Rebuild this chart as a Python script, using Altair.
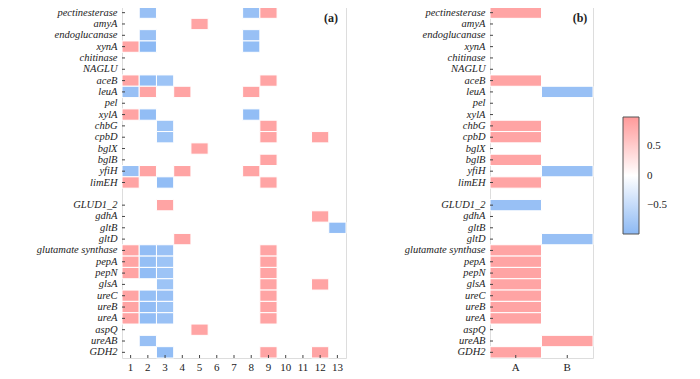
import altair as alt
import pandas as pd

genes = ["pectinesterase", "amyA", "endoglucanase", "xynA", "chitinase", "NAGLU",
         "aceB", "leuA", "pel", "xylA", "chbG", "cpbD", "bglX", "bglB", "yfiH", "limEH",
         " ",
         "GLUD1_2", "gdhA", "gltB", "gltD", "glutamate synthase", "pepA", "pepN", "glsA",
         "ureC", "ureB", "ureA", "aspQ", "ureAB", "GDH2"]
label_genes = [g for g in genes if g.strip()]

cols_a = [str(i) for i in range(1, 14)]
cols_b = ["A", "B"]

# panel (a): gene -> {column: value}
cells_a = {
    "pectinesterase": {"2": -0.9, "8": -0.9, "9": 0.9},
    "amyA": {"5": 0.9},
    "endoglucanase": {"2": -0.9, "8": -0.9},
    "xynA": {"1": 0.9, "2": -1.0, "8": -0.95},
    "aceB": {"1": 0.9, "2": -0.95, "3": -0.85, "9": 0.9},
    "leuA": {"1": -0.9, "2": 0.9, "4": 0.9, "8": 0.9},
    "xylA": {"1": 0.9, "2": -0.95, "8": -0.95},
    "chbG": {"3": -0.85, "9": 0.9},
    "cpbD": {"3": -0.85, "9": 0.9, "12": 0.9},
    "bglX": {"5": 0.9},
    "bglB": {"9": 0.9},
    "yfiH": {"1": -0.9, "2": 0.9, "4": 0.9, "8": 0.9},
    "limEH": {"1": 0.9, "3": -0.95, "9": 0.9},
    "GLUD1_2": {"3": 0.9},
    "gdhA": {"12": 0.9},
    "gltB": {"13": -0.95},
    "gltD": {"4": 0.9},
    "glutamate synthase": {"1": 0.9, "2": -0.95, "3": -0.88, "9": 0.9},
    "pepA": {"1": 0.9, "2": -0.92, "3": -0.85, "9": 0.9},
    "pepN": {"1": 0.9, "2": -0.95, "3": -0.85, "9": 0.9},
    "glsA": {"3": -0.85, "9": 0.9, "12": 0.9},
    "ureC": {"1": 0.9, "2": -0.92, "3": -0.9, "9": 0.9},
    "ureB": {"1": 0.9, "2": -0.95, "3": -0.85, "9": 0.9},
    "ureA": {"1": 0.9, "2": -0.95, "3": -0.88, "9": 0.9},
    "aspQ": {"5": 0.9},
    "ureAB": {"2": -0.9},
    "GDH2": {"3": -0.95, "9": 0.9, "12": 0.9},
}

cells_b = {
    "pectinesterase": {"A": 0.9},
    "aceB": {"A": 0.9},
    "leuA": {"B": -0.9},
    "chbG": {"A": 0.9},
    "cpbD": {"A": 0.9},
    "bglB": {"A": 0.9},
    "yfiH": {"B": -0.9},
    "limEH": {"A": 0.9},
    "GLUD1_2": {"A": -0.9},
    "gltD": {"B": -0.9},
    "glutamate synthase": {"A": 0.9},
    "pepA": {"A": 0.9},
    "pepN": {"A": 0.9},
    "glsA": {"A": 0.9},
    "ureC": {"A": 0.9},
    "ureB": {"A": 0.9},
    "ureA": {"A": 0.9},
    "ureAB": {"B": 0.9},
    "GDH2": {"A": 0.9},
}

legend_values = [0.5, 0, -0.5]


def to_df(cells):
    rows = []
    for g, d in cells.items():
        for c, v in d.items():
            rows.append({"gene": g, "col": c, "value": v})
    return pd.DataFrame(rows)


df_a = to_df(cells_a)
df_b = to_df(cells_b)

H = 351
W_A = 224
W_B = 103
EXT = 86
FONT = "Times New Roman, Liberation Serif, serif"

color = alt.Color(
    "value:Q",
    scale=alt.Scale(domain=[-1, 0, 1], range=["#8cb9f4", "#ffffff", "#ff9a9a"],
                    interpolate="rgb"),
    legend=alt.Legend(
        title=None,
        orient="none",
        legendX=501,
        legendY=110,
        direction="vertical",
        gradientLength=117,
        gradientThickness=16,
        gradientStrokeColor="#555555",
        gradientStrokeWidth=1,
        values=legend_values,
        format=".1~f",
        labelFont=FONT,
        labelFontSize=11,
        labelColor="#222222",
        labelOffset=8,
    ),
)


def panel(df, cols, width, tag, tag_x):
    yenc = alt.Y(
        "gene:N",
        sort=genes,
        scale=alt.Scale(domain=genes, paddingInner=0, paddingOuter=0),
        axis=alt.Axis(
            title=None,
            values=label_genes,
            labelFont=FONT,
            labelFontStyle="italic",
            labelFontSize=10.5,
            labelColor="#222222",
            ticks=False,
            tickSize=0,
            labelPadding=5,
            domain=False,
            minExtent=EXT,
            maxExtent=EXT,
        ),
    )
    xenc = alt.X(
        "col:N",
        sort=cols,
        scale=alt.Scale(domain=cols, paddingInner=0, paddingOuter=0),
        axis=alt.Axis(
            title=None,
            labelAngle=0,
            labelFont=FONT,
            labelFontSize=11,
            labelColor="#222222",
            ticks=False,
            tickSize=0,
            labelPadding=3,
            domain=False,
        ),
    )
    rects = alt.Chart(df).mark_rect(stroke="white", strokeWidth=1).encode(
        x=xenc, y=yenc, color=color
    )
    yt = alt.Chart(pd.DataFrame({"gene": label_genes})).mark_rule(
        color="#444444", strokeWidth=1
    ).encode(
        y=alt.Y("gene:N", sort=genes, bandPosition=0.5),
        x=alt.value(0),
        x2=alt.value(3),
    )
    xt = alt.Chart(pd.DataFrame({"col": cols})).mark_rule(
        color="#444444", strokeWidth=1
    ).encode(
        x=alt.X("col:N", sort=cols, bandPosition=0.5),
        y=alt.value(H),
        y2=alt.value(H - 3),
    )
    txt = alt.Chart(pd.DataFrame({"t": [tag]})).mark_text(
        font=FONT, fontSize=12, fontWeight="bold", color="#222222"
    ).encode(text="t:N", x=alt.value(tag_x), y=alt.value(11))
    return alt.layer(rects, yt, xt, txt).properties(width=width, height=H)


pa = panel(df_a, cols_a, W_A, "(a)", 209)
pb = panel(df_b, cols_b, W_B, "(b)", 90)

chart = (
    alt.hconcat(pa, pb, spacing=56)
    .resolve_scale(color="shared")
    .properties(padding={"left": 27, "top": -2, "right": 0, "bottom": 0})
    .configure_view(stroke="#777777", strokeWidth=1)
    .configure(background="white")
)

chart.save("out.html", embed_options={"renderer": "svg", "actions": False})
